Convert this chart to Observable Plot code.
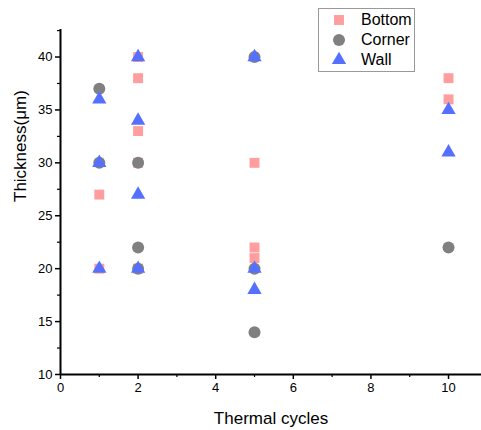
<!DOCTYPE html>
<html>
<head>
<meta charset="utf-8">
<script src="https://cdn.jsdelivr.net/npm/d3@7"></script>
<script src="https://cdn.jsdelivr.net/npm/@observablehq/plot@0.6"></script>
<style>
  body { margin: 0; background: #fff; font-family: "Liberation Sans", Arial, sans-serif; }
  #wrap { position: relative; width: 481px; height: 430px; }
  #legend { position: absolute; left: 318px; top: 8px; width: 95px; height: 62px; border: 1px solid #999; background: #fff; font-size: 16px; }
  #legend .row { position: absolute; left: 0; height: 20px; display: flex; align-items: center; }
  #legend svg { margin-left: 12px; margin-right: 14px; }
</style>
</head>
<body>
<div id="wrap"></div>
<script>
const seriesNames = ["Bottom", "Corner", "Wall"];
const colors = ["#FF9E9E", "#808080", "#5570FF"];
const symbols = ["square", "circle", "triangle"];

const bottomX = [1, 1, 2, 2, 2, 2, 2, 5, 5, 5, 10, 10];
const bottomY = [27, 20, 40, 38, 33, 30, 20, 30, 22, 21, 38, 36];
const cornerX = [1, 1, 2, 2, 2, 5, 5, 5, 10];
const cornerY = [37, 30, 30, 22, 20, 40, 20, 14, 22];
const wallX = [1, 1, 1, 2, 2, 2, 2, 5, 5, 5, 10, 10];
const wallY = [36, 30, 20, 40, 34, 27, 20, 40, 20, 18, 35, 31];

const xMajor = [0, 2, 4, 6, 8, 10];
const xMinor = [1, 3, 5, 7, 9];
const yMajor = [10, 15, 20, 25, 30, 35, 40];
const yMinor = [12.5, 17.5, 22.5, 27.5, 32.5, 37.5, 42.5];
const xLabel = "Thermal cycles";
const yLabel = "Thickness(μm)";

const toRows = (xs, ys, s) => xs.map((x, i) => ({x, y: ys[i], series: s}));
const bottom = toRows(bottomX, bottomY, "Bottom");
const corner = toRows(cornerX, cornerY, "Corner");
const wall = toRows(wallX, wallY, "Wall");

const font = "Liberation Sans, Arial, sans-serif";

const chart = Plot.plot({
  width: 481,
  height: 430,
  marginLeft: 60,
  marginRight: 0,
  marginTop: 29,
  marginBottom: 56,
  style: {fontFamily: font, fontSize: "13px", color: "#000", background: "transparent"},
  x: {domain: [0, 10.85]},
  y: {domain: [10, 42.6]},
  marks: [
    Plot.axisX(xMajor, {tickSize: 5, tickPadding: 3, strokeWidth: 1.5, fontSize: 13, label: null}),
    Plot.axisX(xMinor, {tickSize: 3, strokeWidth: 1.2, text: null, label: null}),
    Plot.axisY(yMajor, {tickSize: 5, tickPadding: 3, strokeWidth: 1.5, fontSize: 13, label: null}),
    Plot.axisY(yMinor, {tickSize: 3, strokeWidth: 1.2, text: null, label: null}),
    Plot.text([xLabel], {text: d => d, frameAnchor: "bottom", dy: 44, lineAnchor: "middle", fontSize: 17, fill: "#000"}),
    Plot.text([yLabel], {text: d => d, frameAnchor: "left", dx: -40, rotate: -90, lineAnchor: "middle", fontSize: 17, fill: "#000"}),
    Plot.ruleX([0], {stroke: "#000", strokeWidth: 2}),
    Plot.ruleY([10], {stroke: "#000", strokeWidth: 2}),
    Plot.dot(bottom, {x: "x", y: "y", symbol: "square", r: 5.6, fill: colors[0], stroke: "none"}),
    Plot.dot(corner, {x: "x", y: "y", symbol: "circle", r: 6, fill: colors[1], stroke: "none"}),
    Plot.dot(wall, {x: "x", y: "y", symbol: "triangle", r: 5.3, fill: colors[2], stroke: "none"})
  ]
});

const wrap = document.getElementById("wrap");
wrap.appendChild(chart);

const legend = document.createElement("div");
legend.id = "legend";
const symPath = {
  square: d3.symbol(d3.symbolSquare, Math.PI * 5.6 * 5.6)(),
  circle: d3.symbol(d3.symbolCircle, Math.PI * 6 * 6)(),
  triangle: d3.symbol(d3.symbolTriangle, Math.PI * 5.3 * 5.3)()
};
seriesNames.forEach((name, i) => {
  const row = document.createElement("div");
  row.className = "row";
  row.style.top = (1 + i * 20) + "px";
  row.innerHTML = `<svg width="16" height="16" viewBox="-8 -8 16 16"><path d="${symPath[symbols[i]]}" fill="${colors[i]}"/></svg><span>${name}</span>`;
  legend.appendChild(row);
});
wrap.appendChild(legend);
</script>
</body>
</html>
